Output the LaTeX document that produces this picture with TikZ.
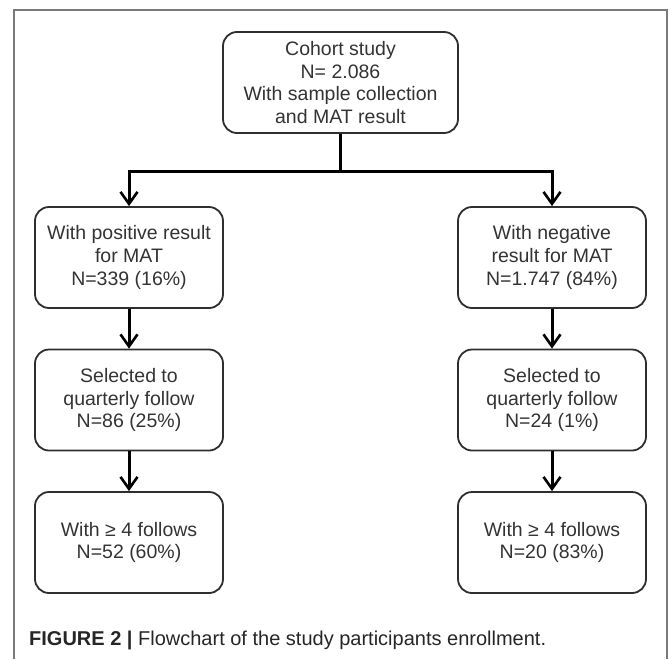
\documentclass[tikz,border=0pt]{standalone}
\usepackage{fontspec}
\setmainfont{Liberation Sans}
\usetikzlibrary{arrows.meta}
\definecolor{txt}{HTML}{333333}
\definecolor{boxc}{HTML}{2E2E2E}
\definecolor{framec}{HTML}{7A7A7A}
\begin{document}
\begin{tikzpicture}[x=1pt,y=-1pt,
  box/.style={draw=boxc, line width=1.8pt, rounded corners=14pt,
    minimum width=188pt, minimum height=101pt, align=center,
    font=\fontsize{19.5}{22.8}\selectfont, text=txt, inner sep=0pt},
  conn/.style={draw=black, line width=3pt,
    -{Straight Barb[length=12pt,width=17pt,line width=2.6pt]}},
  framel/.style={draw=framec, line width=1.6pt}]
\useasboundingbox (0,0) rectangle (669,659);
\draw[framel] (14,659) -- (14,10) -- (667,10) -- (667,659);

\node[box, minimum width=235pt] (top) at (340.5,82.5)
  {Cohort study\\N= 2.086\\With sample collection\\and MAT result};
\node[box] (l1) at (129,257.5) {With positive result\\for MAT\\N=339 (16\%)};
\node[box] (l2) at (129,400) {Selected to\\quarterly follow\\N=86 (25\%)};
\node[box] (l3) at (129,542.5) {With ≥ 4 follows\\N=52 (60\%)};
\node[box] (r1) at (552,257.5) {With negative\\result for MAT\\N=1.747 (84\%)};
\node[box] (r2) at (552,400) {Selected to\\quarterly follow\\N=24 (1\%)};
\node[box] (r3) at (552,542.5) {With ≥ 4 follows\\N=20 (83\%)};

\draw[line width=3pt] (top.south) -- ++(0,38) coordinate (j);
\draw[conn] (j) -| (l1.north);
\draw[conn] (j) -| (r1.north);
\draw[conn] (l1) -- (l2);
\draw[conn] (l2) -- (l3);
\draw[conn] (r1) -- (r2);
\draw[conn] (r2) -- (r3);

\node[anchor=west, inner sep=0pt, text=black!85,
  font=\fontsize{20}{24}\selectfont] (cap) at (29,640)
  {\textbf{FIGURE 2 |} Flowchart of the study participants enrollment.};
\end{tikzpicture}
\end{document}
